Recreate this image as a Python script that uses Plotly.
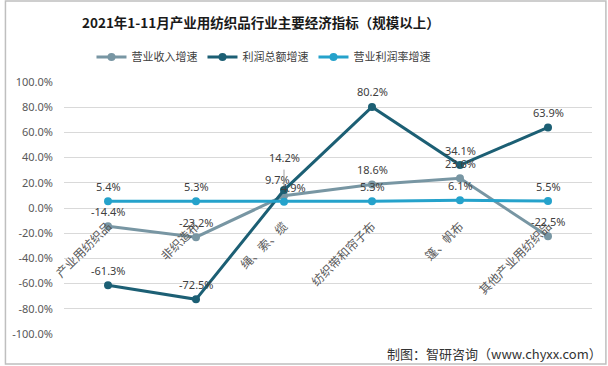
import plotly.graph_objects as go

categories = ["产业用纺织品", "非织造布", "绳、索、缆", "纺织带和帘子布", "篷、帆布", "其他产业用纺织品"]
revenue_growth = [-14.4, -23.2, 9.7, 18.6, 23.6, -22.5]
profit_growth = [-61.3, -72.5, 14.2, 80.2, 34.1, 63.9]
margin_growth = [5.4, 5.3, 4.9, 5.3, 6.1, 5.5]
y_ticks = [-100, -80, -60, -40, -20, 0, 20, 40, 60, 80, 100]

series = [
    ("营业收入增速", revenue_growth, "#7896a3"),
    ("利润总额增速", profit_growth, "#1c5f74"),
    ("营业利润率增速", margin_growth, "#25a2cb"),
]

W, H = 608, 366
ml, mr, mt, mb = 60, 16, 82, 32
pw, ph = W - ml - mr, H - mt - mb

def px_x(p):
    return (p - ml) / pw

def px_y(p):  # p measured from top
    return (H - p - mb) / ph

fig = go.Figure()
for name, vals, col in series:
    fig.add_trace(go.Scatter(
        x=categories, y=vals, name=name, mode="lines+markers",
        line=dict(color=col, width=3), marker=dict(color=col, size=8),
    ))

# data labels
label_font = dict(family="Noto Sans, Noto Sans CJK SC", size=11, color="#404040")
offsets = {("利润总额增速", 2): (0, 33), ("营业利润率增速", 2): (9, 14),
           ("营业收入增速", 2): (-7, 16)}
annotations = []
for name, vals, col in series:
    for i, v in enumerate(vals):
        dx, dy = offsets.get((name, i), (0, 15))
        annotations.append(dict(
            x=categories[i], y=v, xref="x", yref="y", text=f"{v:.1f}%",
            showarrow=False, xshift=dx, yshift=dy, font=label_font,
        ))
# leader line for 14.2%
annotations.append(dict(
    x=categories[2], y=profit_growth[2], xref="x", yref="y", ax=0, ay=-22,
    showarrow=True, arrowhead=0, arrowwidth=1, arrowcolor="#a0a0a0", text="",
    standoff=4,
))
annotations.append(dict(
    x=px_x(258), y=px_y(22), xref="paper", yref="paper",
    text="<b>2021年1-11月产业用纺织品行业主要经济指标（规模以上）</b>",
    showarrow=False, xanchor="center", yanchor="middle",
    font=dict(family="Noto Sans CJK SC", size=13.5, color="#1a1a1a"),
))
annotations.append(dict(
    x=px_x(604), y=px_y(353), xref="paper", yref="paper",
    text="制图：智研咨询（www.chyxx.com）",
    showarrow=False, xanchor="right", yanchor="middle",
    font=dict(family="Noto Sans CJK SC", size=13, color="#333333"),
))

fig.update_layout(
    width=W, height=H,
    margin=dict(l=ml, r=mr, t=mt, b=mb),
    paper_bgcolor="white", plot_bgcolor="white",
    showlegend=True,
    legend=dict(orientation="h", x=px_x(261), y=px_y(57), xanchor="center", yanchor="middle",
                font=dict(family="Noto Sans CJK SC", size=11, color="#404040"),
                itemwidth=30, tracegroupgap=0),
    annotations=annotations,
    xaxis=dict(
        type="category", range=[-0.5, 5.5], anchor="free", position=0.5,
        showline=False, showgrid=False, ticks="", tickangle=-45,
        tickfont=dict(family="Noto Sans CJK SC", size=12, color="#595959"),
        ticklabelstandoff=8,
    ),
    yaxis=dict(
        range=[-100, 100], tickvals=y_ticks,
        ticktext=[f"{t:.1f}%" for t in y_ticks],
        showgrid=True, gridcolor="#d9d9d9", gridwidth=1, zeroline=False,
        tickfont=dict(family="Noto Sans", size=11, color="#595959"),
        ticklabelstandoff=10,
    ),
    shapes=[dict(type="rect", xref="paper", yref="paper",
                 x0=px_x(1), x1=px_x(606), y0=px_y(364), y1=px_y(1),
                 line=dict(color="#bfbfbf", width=1.5))],
)

fig.write_html("out.html", config={"displayModeBar": False},
               post_script="document.body.style.margin='0';document.body.style.overflow='hidden';")
